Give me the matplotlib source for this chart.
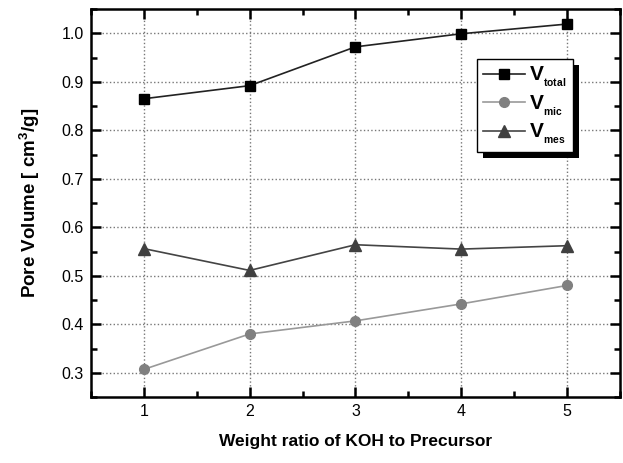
import numpy as np
import matplotlib.pyplot as plt
from matplotlib.patches import Rectangle
from matplotlib.ticker import MultipleLocator

plt.rcParams['font.family'] = ['Liberation Sans', 'DejaVu Sans']
plt.rcParams['mathtext.fontset'] = 'custom'
plt.rcParams['mathtext.rm'] = 'Liberation Sans'
plt.rcParams['mathtext.bf'] = 'Liberation Sans:bold'

# data
ratio = [1, 2, 3, 4, 5]
v_total = [0.865, 0.892, 0.972, 0.999, 1.019]
v_mic = [0.307, 0.380, 0.407, 0.442, 0.480]
v_mes = [0.556, 0.511, 0.564, 0.555, 0.562]

fig = plt.figure(figsize=(6.23, 4.63), dpi=100)
ax = fig.add_axes([0.146, 0.1425, 0.849, 0.838])

ax.plot(ratio, v_total, color='#222222', lw=1.2, marker='s', ms=6.5,
        mfc='black', mec='black', label=r'${\bf V}_{{}_{\bf total}}$', zorder=3)
ax.plot(ratio, v_mic, color='#999999', lw=1.2, marker='o', ms=7,
        mfc='#808080', mec='#808080', label=r'${\bf V}_{{}_{\bf mic}}$', zorder=3)
ax.plot(ratio, v_mes, color='#444444', lw=1.2, marker='^', ms=8,
        mfc='#404040', mec='#404040', label=r'${\bf V}_{{}_{\bf mes}}$', zorder=3)

ax.set_xlim(0.5, 5.5)
ax.set_ylim(0.25, 1.05)
ax.xaxis.set_major_locator(MultipleLocator(1))
ax.xaxis.set_minor_locator(MultipleLocator(0.5))
ax.yaxis.set_major_locator(MultipleLocator(0.1))
ax.yaxis.set_minor_locator(MultipleLocator(0.05))
ax.yaxis.set_major_formatter(plt.FuncFormatter(lambda v, p: f'{v:.1f}'))

ax.tick_params(which='both', direction='in', top=True, right=True, width=1.8)
ax.tick_params(which='major', length=7, labelsize=11.5, pad=5)
ax.tick_params(which='minor', length=4.5)
for s in ax.spines.values():
    s.set_linewidth(1.8)

ax.grid(True, which='major', ls=':', color='#777777', lw=1)

ax.set_xlabel('Weight ratio of KOH to Precursor', fontsize=12.5,
              fontweight='bold', labelpad=11)
ax.set_ylabel(r'Pore Volume [ cm$^\mathregular{3}$/g]', fontsize=13.5,
              fontweight='bold', labelpad=14)

leg = ax.legend(loc='upper left', bbox_to_anchor=(0.730, 0.871),
                borderaxespad=0, fancybox=False, edgecolor='black',
                framealpha=1, fontsize=15, handlelength=2.0, borderpad=0.3,
                labelspacing=0.2, handletextpad=0.2)
leg.get_frame().set_linewidth(1.0)
leg.set_zorder(10)

# black drop shadow behind the legend box
fig.canvas.draw()
bb = leg.get_window_extent()
shadow = Rectangle((bb.x0 + 6, bb.y0 - 6), bb.width, bb.height,
                   transform=None, facecolor='black', edgecolor='none',
                   zorder=9)
ax.add_artist(shadow)

fig.savefig('out.png', dpi=100)
